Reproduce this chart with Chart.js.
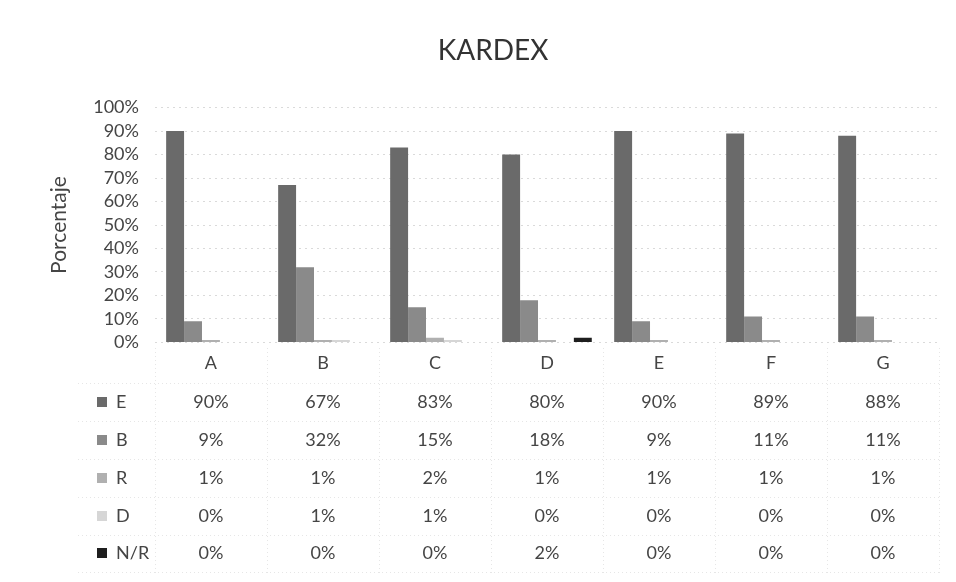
<!DOCTYPE html>
<html>
<head>
<meta charset="utf-8">
<style>
  body { margin: 0; background: #fff; }
  #wrap { width: 956px; height: 582px; }
</style>
<script src="https://cdn.jsdelivr.net/npm/chart.js@4.4.1/dist/chart.umd.min.js"></script>
</head>
<body>
<div id="wrap"><canvas id="kardex" width="956" height="582"></canvas></div>
<script>
// Data
const categories = ['A', 'B', 'C', 'D', 'E', 'F', 'G'];
const seriesNames = ['E', 'B', 'R', 'D', 'N/R'];
const valuesE = [90, 67, 83, 80, 90, 89, 88];
const valuesB = [9, 32, 15, 18, 9, 11, 11];
const valuesR = [1, 1, 2, 1, 1, 1, 1];
const valuesD = [0, 1, 1, 0, 0, 0, 0];
const valuesNR = [0, 0, 0, 2, 0, 0, 0];
const yTicks = [0, 10, 20, 30, 40, 50, 60, 70, 80, 90, 100];

const colors = ['#6a6a6a', '#8a8a8a', '#b0b0b0', '#d6d6d6', '#1e1e1e'];
const FONT = 'Lato, "Open Sans", sans-serif';
const textColor = '#454545';

// draws the data table (legend keys + values) under the x axis
const dataTable = {
    id: 'dataTable',
    afterDraw(chart) {
        const ctx = chart.ctx;
        const x = chart.scales.x;
        const rowY = [402, 440, 478, 516, 553];
        const step = x.getPixelForValue(1) - x.getPixelForValue(0);

        ctx.save();
        // faint dotted cell lines
        ctx.strokeStyle = '#e6e6e6';
        ctx.lineWidth = 1;
        ctx.setLineDash([1, 3]);
        for (let j = 0; j <= categories.length; j++) {
            const px = Math.round(x.getPixelForValue(j) - step / 2) + 0.5;
            ctx.beginPath();
            ctx.moveTo(px, 348);
            ctx.lineTo(px, 574);
            ctx.stroke();
        }
        for (let i = 0; i <= rowY.length; i++) {
            const py = Math.round(i === 0 ? 383 : rowY[i - 1] + 19) + 0.5;
            ctx.beginPath();
            ctx.moveTo(78, py);
            ctx.lineTo(x.right, py);
            ctx.stroke();
        }
        ctx.setLineDash([]);

        ctx.font = '18px ' + FONT;
        ctx.textBaseline = 'middle';
        chart.data.datasets.forEach((ds, i) => {
            const y = rowY[i];
            ctx.fillStyle = ds.backgroundColor;
            ctx.fillRect(97, y - 5, 10, 10);
            ctx.fillStyle = textColor;
            ctx.textAlign = 'left';
            ctx.fillText(ds.label, 116, y);
            ctx.textAlign = 'center';
            ds.data.forEach((v, j) => {
                ctx.fillText(v + '%', x.getPixelForValue(j), y);
            });
        });
        ctx.restore();
    }
};

const ctx = document.getElementById('kardex').getContext('2d');
const kardexChart = new Chart(ctx, {
    type: 'bar',
    data: {
        labels: categories,
        datasets: [valuesE, valuesB, valuesR, valuesD, valuesNR].map((vals, i) => ({
            label: seriesNames[i],
            data: vals,
            backgroundColor: colors[i],
            borderWidth: 0,
            categoryPercentage: 0.8,
            barPercentage: 1.0
        }))
    },
    options: {
        responsive: false,
        animation: false,
        devicePixelRatio: 1,
        layout: { padding: { top: 0, left: 47, right: 17, bottom: 198 } },
        plugins: {
            legend: { display: false },
            tooltip: { enabled: false },
            title: {
                display: true,
                text: 'KARDEX',
                color: '#333',
                font: { family: FONT, size: 28, weight: 'normal' },
                padding: { top: 34, bottom: 40 }
            }
        },
        scales: {
            x: {
                grid: { display: false, drawTicks: false },
                border: { display: false },
                ticks: { color: textColor, font: { family: FONT, size: 18 }, padding: 10 }
            },
            y: {
                min: 0,
                max: 100,
                afterBuildTicks: axis => { axis.ticks = yTicks.map(v => ({ value: v })); },
                grid: { color: '#dadada', drawTicks: false, lineWidth: 1 },
                border: { display: false, dash: [2, 4] },
                ticks: {
                    autoSkip: false,
                    color: textColor,
                    font: { family: FONT, size: 18 },
                    padding: 16,
                    callback: v => v + '%'
                },
                title: {
                    display: true,
                    text: 'Porcentaje',
                    color: textColor,
                    font: { family: FONT, size: 21 },
                    padding: { top: 0, bottom: 5 }
                }
            }
        }
    },
    plugins: [dataTable]
});
</script>
</body>
</html>
